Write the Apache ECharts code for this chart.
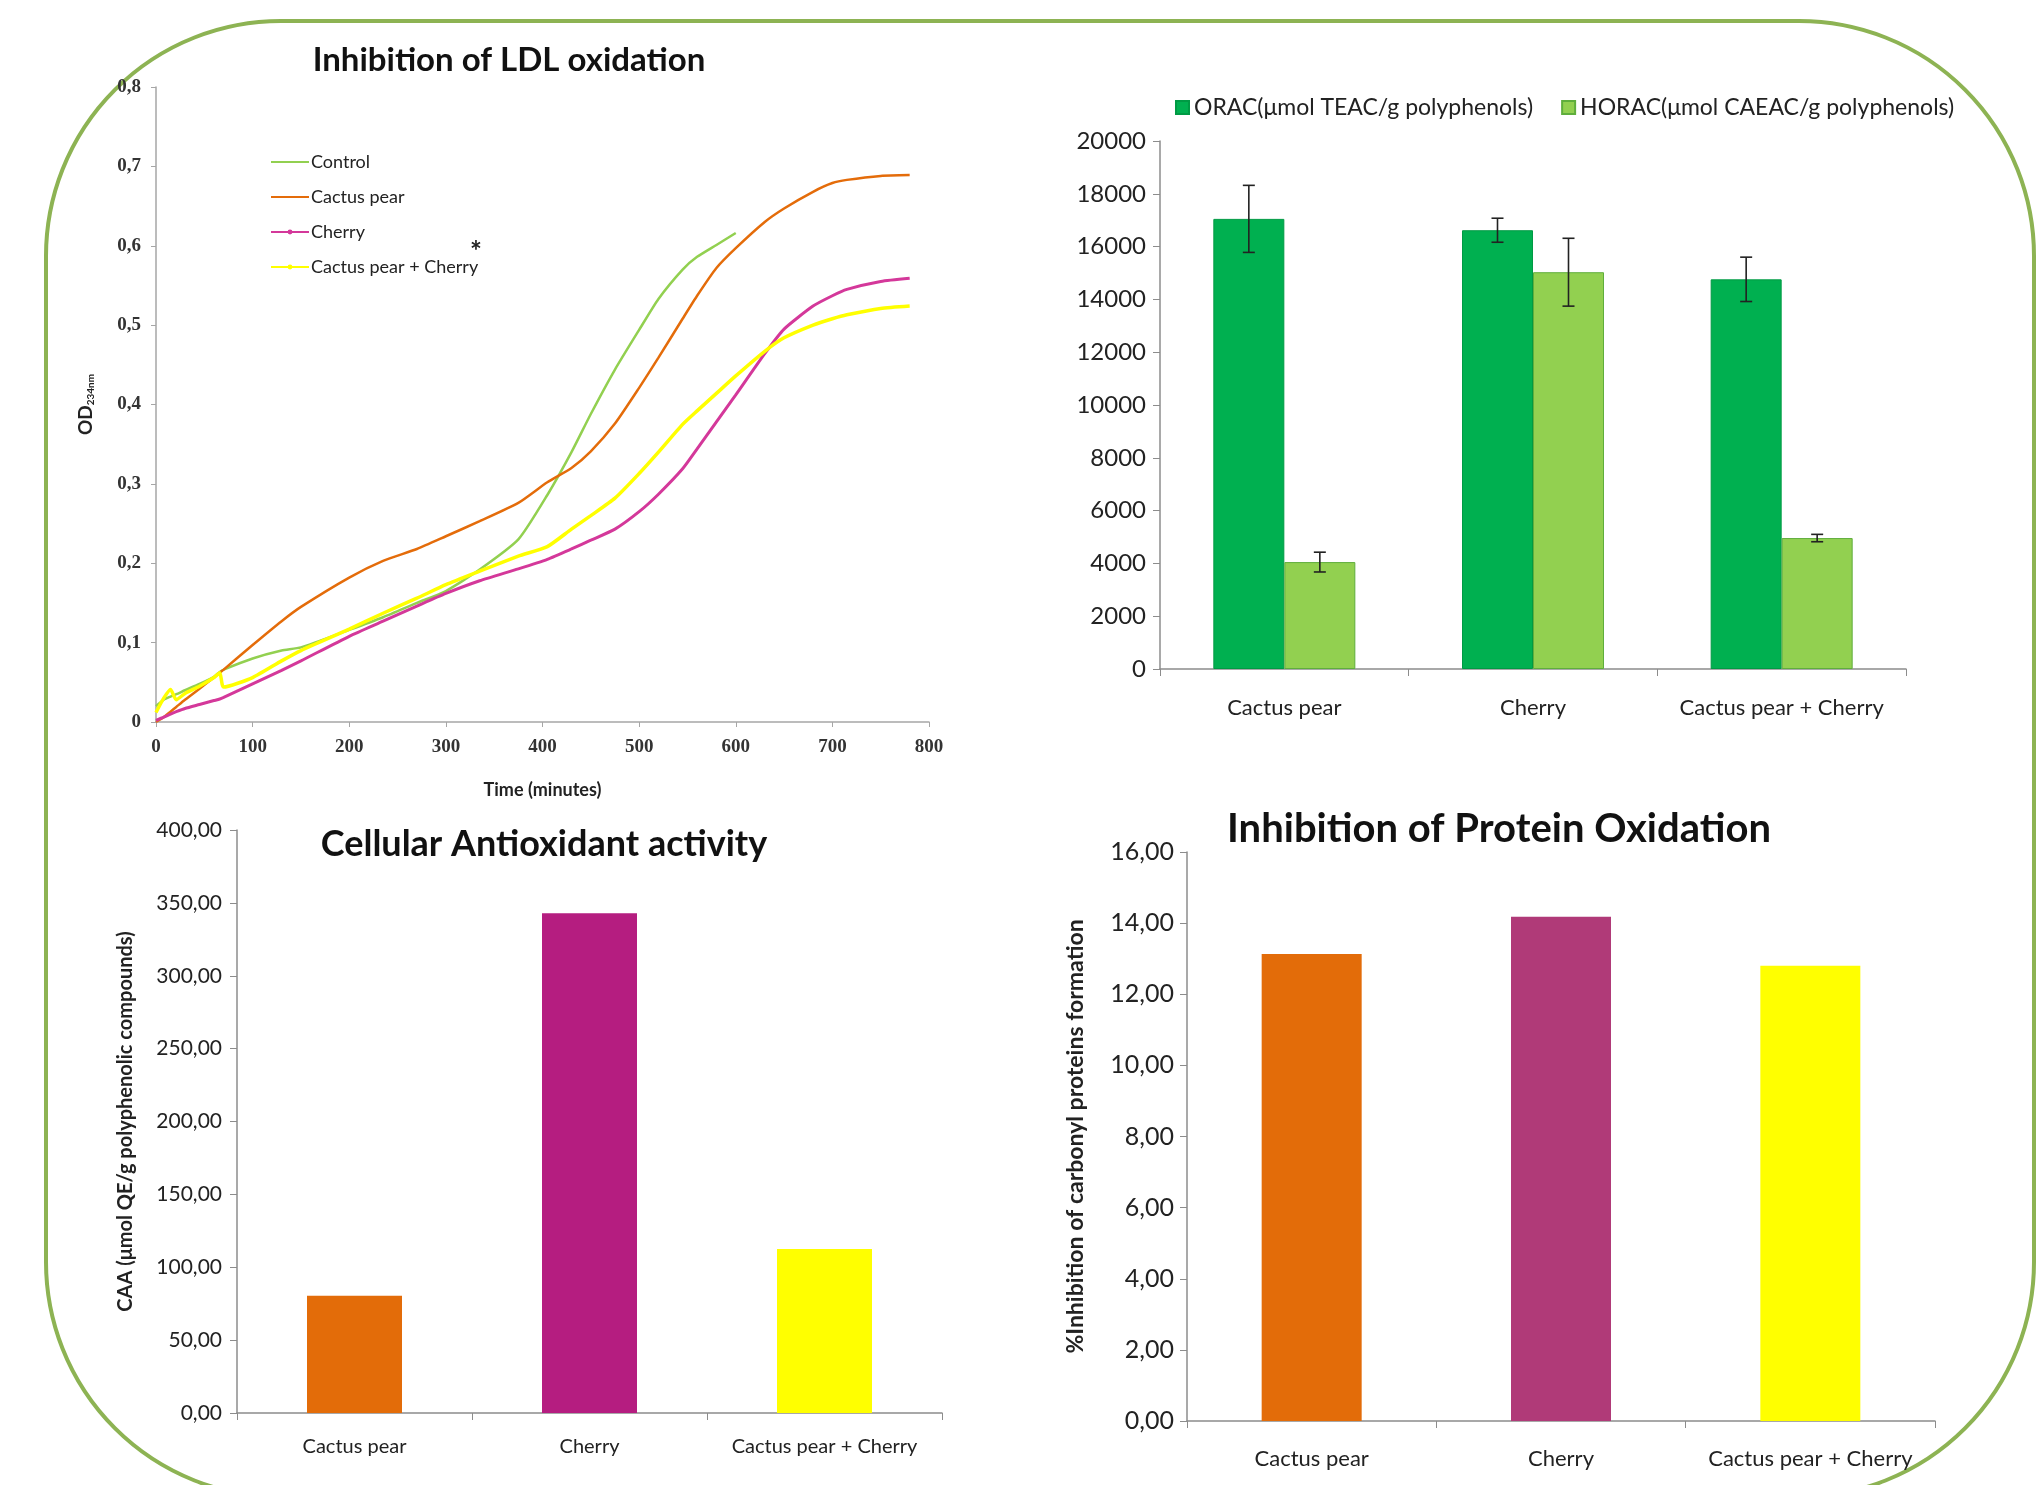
<!DOCTYPE html>
<html>
<head>
<meta charset="utf-8">
<title>Antioxidant activity</title>
<script src="https://cdn.jsdelivr.net/npm/echarts/dist/echarts.min.js"></script>
<style>
  html, body { margin: 0; padding: 0; background: #fff; }
  #main { width: 2040px; height: 1485px; }
</style>
</head>
<body>
<div id="main"></div>
<script>
// LDL oxidation, OD234nm (minutes)
var ldlTime    = [0, 8, 15, 21, 30, 45, 60, 66, 70, 100, 130, 150, 200, 235, 270, 300, 335, 375, 405, 430, 450, 475, 500, 520, 545, 560, 580, 600, 630, 650, 680, 700, 715, 750, 780];
var ldlControl = [0.02, 0.028, 0.032, 0.035, 0.04, 0.048, 0.057, 0.063, 0.066, 0.08, 0.09, 0.094, 0.116, 0.132, 0.15, 0.165, 0.192, 0.23, 0.286, 0.34, 0.388, 0.444, 0.494, 0.533, 0.57, 0.586, 0.601, 0.616, null, null, null, null, null, null, null];
var ldlCactus  = [0, 0.006, 0.013, 0.019, 0.028, 0.042, 0.056, 0.062, 0.066, 0.097, 0.127, 0.145, 0.182, 0.203, 0.218, 0.234, 0.253, 0.276, 0.302, 0.32, 0.341, 0.376, 0.421, 0.459, 0.508, 0.537, 0.572, 0.597, 0.63, 0.647, 0.668, 0.679, 0.683, 0.688, 0.689];
var ldlCherry  = [0.002, 0.006, 0.01, 0.013, 0.017, 0.022, 0.027, 0.029, 0.031, 0.048, 0.065, 0.077, 0.108, 0.127, 0.146, 0.162, 0.178, 0.193, 0.205, 0.218, 0.229, 0.243, 0.265, 0.287, 0.319, 0.344, 0.378, 0.412, 0.464, 0.495, 0.524, 0.537, 0.545, 0.555, 0.559];
var ldlMix     = [0.012, 0.03, 0.041, 0.028, 0.036, 0.045, 0.056, 0.062, 0.044, 0.056, 0.077, 0.09, 0.117, 0.137, 0.156, 0.173, 0.19, 0.209, 0.221, 0.243, 0.26, 0.282, 0.313, 0.34, 0.375, 0.392, 0.414, 0.436, 0.467, 0.484, 0.5, 0.508, 0.513, 0.521, 0.524];
var ldlNames   = ['Control', 'Cactus pear', 'Cherry', 'Cactus pear + Cherry'];

var categories = ['Cactus pear', 'Cherry', 'Cactus pear + Cherry'];

// ORAC / HORAC with standard deviations
var oracName  = 'ORAC(μmol TEAC/g polyphenols)';
var horacName = 'HORAC(μmol CAEAC/g polyphenols)';
var oracVal  = [17050, 16620, 14760];
var oracErr  = [1270, 455, 840];
var horacVal = [4050, 15030, 4960];
var horacErr = [375, 1285, 140];

// cellular antioxidant activity and protein oxidation
var caaVal     = [80.4, 342.9, 112.5];
var proteinVal = [13.13, 14.18, 12.8];

var FONT = 'Lato, "Open Sans", sans-serif';
var SERIF = '"Liberation Serif", serif';
var lineColors = ['#92d050', '#e46c0a', '#d4389a', '#ffff00'];
var caaColors = ['#e36c09', '#b51d80', '#ffff00'];
var proteinColors = ['#e36c09', '#b03a78', '#ffff00'];
var BAR2 = 71;

function pairs(xs, ys) {
  var out = [];
  for (var i = 0; i < xs.length; i++) {
    if (ys[i] !== null) out.push([xs[i], ys[i]]);
  }
  return out;
}

function comma(v, d) {
  return v.toFixed(d).replace('.', ',');
}

function errorBars(name, values, errs, offset) {
  var data = values.map(function (v, i) { return [i, v - errs[i], v + errs[i]]; });
  return {
    type: 'custom',
    name: name + ' err',
    xAxisIndex: 1,
    yAxisIndex: 1,
    z: 10,
    encode: { x: 0, y: [1, 2] },
    data: data,
    renderItem: function (params, api) {
      var lo = api.coord([api.value(0), api.value(1)]);
      var hi = api.coord([api.value(0), api.value(2)]);
      var x = lo[0] + offset;
      var cap = 6;
      var st = { stroke: '#222', lineWidth: 1.6 };
      return {
        type: 'group',
        children: [
          { type: 'line', shape: { x1: x, y1: lo[1], x2: x, y2: hi[1] }, style: st },
          { type: 'line', shape: { x1: x - cap, y1: lo[1], x2: x + cap, y2: lo[1] }, style: st },
          { type: 'line', shape: { x1: x - cap, y1: hi[1], x2: x + cap, y2: hi[1] }, style: st }
        ]
      };
    }
  };
}

function catAxis(grid, margin, size) {
  return {
    gridIndex: grid,
    type: 'category',
    data: categories,
    axisLine: { show: true, lineStyle: { color: '#8c8c8c', width: 1.5 } },
    axisTick: { show: true, length: 7, lineStyle: { color: '#8c8c8c' } },
    axisLabel: { interval: 0, margin: margin, fontFamily: FONT, fontSize: size, color: '#222' }
  };
}

function lineSeries(idx, values, width) {
  return {
    name: ldlNames[idx], type: 'line', xAxisIndex: 0, yAxisIndex: 0,
    symbol: 'none', smooth: 0.2,
    lineStyle: { width: width, color: lineColors[idx] },
    itemStyle: { color: lineColors[idx] },
    data: pairs(ldlTime, values)
  };
}

var chart = echarts.init(document.getElementById('main'));

var option = {
  backgroundColor: '#fff',
  animation: false,
  grid: [
    { left: 156, top: 87, width: 773, height: 635 },
    { left: 1160, top: 141, width: 746, height: 528 },
    { left: 237, top: 830, width: 705, height: 583 },
    { left: 1187, top: 852, width: 748, height: 569 }
  ],
  legend: [
    {
      // plain lines for the first two, small dot marker on the last two
      data: [
        { name: ldlNames[0], itemStyle: { opacity: 0 } },
        { name: ldlNames[1], itemStyle: { opacity: 0 } },
        { name: ldlNames[2] },
        { name: ldlNames[3] }
      ],
      orient: 'vertical',
      left: 265,
      top: 147,
      itemWidth: 38,
      itemHeight: 6,
      itemGap: 15,
      textStyle: { fontFamily: FONT, fontSize: 18, color: '#222', lineHeight: 20, padding: [0, 0, 0, -3] }
    },
    {
      data: [oracName, horacName],
      left: 1170,
      top: 91,
      icon: 'rect',
      itemWidth: 13,
      itemHeight: 13,
      itemGap: 28,
      textStyle: { fontFamily: FONT, fontSize: 23, color: '#222' }
    }
  ],
  xAxis: [
    {
      gridIndex: 0,
      type: 'value',
      min: 0, max: 800, interval: 100,
      name: 'Time (minutes)',
      nameLocation: 'middle',
      nameGap: 59,
      nameTextStyle: { fontFamily: FONT, fontSize: 18, fontWeight: 'bold', color: '#222' },
      axisLine: { show: true, lineStyle: { color: '#a6a6a6', width: 1.5 } },
      axisTick: { show: true, length: 5, lineStyle: { color: '#a6a6a6' } },
      axisLabel: { margin: 16, fontFamily: SERIF, fontSize: 19, fontWeight: 'bold', color: '#333' },
      splitLine: { show: false }
    },
    catAxis(1, 28, 22),
    catAxis(2, 24, 20),
    catAxis(3, 27, 22)
  ],
  yAxis: [
    {
      gridIndex: 0,
      type: 'value',
      min: 0, max: 0.8, interval: 0.1,
      name: '{a|OD}{b|234nm}',
      nameLocation: 'middle',
      nameGap: 60,
      nameTextStyle: {
        rich: {
          a: { fontFamily: FONT, fontSize: 19, fontWeight: 'bold', color: '#222' },
          b: { fontFamily: FONT, fontSize: 10, fontWeight: 'bold', color: '#222', padding: [10, 0, 0, 0] }
        }
      },
      axisLine: { show: true, lineStyle: { color: '#a6a6a6', width: 1.5 } },
      axisTick: { show: true, length: 5, lineStyle: { color: '#a6a6a6' } },
      axisLabel: {
        margin: 15, fontFamily: SERIF, fontSize: 19, fontWeight: 'bold', color: '#333',
        formatter: function (v) { return v === 0 ? '0' : comma(v, 1); }
      },
      splitLine: { show: false }
    },
    {
      gridIndex: 1,
      type: 'value',
      min: 0, max: 20000, interval: 2000,
      axisLine: { show: true, lineStyle: { color: '#8c8c8c', width: 1.5 } },
      axisTick: { show: true, length: 7, lineStyle: { color: '#8c8c8c' } },
      axisLabel: {
        margin: 14, fontFamily: FONT, fontSize: 24, color: '#222',
        formatter: function (v) { return String(v); }
      },
      splitLine: { show: false }
    },
    {
      gridIndex: 2,
      type: 'value',
      min: 0, max: 400, interval: 50,
      name: 'CAA (μmol QE/g polyphenolic compounds)',
      nameLocation: 'middle',
      nameGap: 101,
      nameTextStyle: { fontFamily: FONT, fontSize: 20, fontWeight: 'bold', color: '#222' },
      axisLine: { show: true, lineStyle: { color: '#8c8c8c', width: 1.5 } },
      axisTick: { show: true, length: 7, lineStyle: { color: '#8c8c8c' } },
      axisLabel: {
        margin: 15, fontFamily: FONT, fontSize: 21, color: '#222',
        formatter: function (v) { return comma(v, 2); }
      },
      splitLine: { show: false }
    },
    {
      gridIndex: 3,
      type: 'value',
      min: 0, max: 16, interval: 2,
      name: '%Inhibition of carbonyl proteins formation',
      nameLocation: 'middle',
      nameGap: 100,
      nameTextStyle: { fontFamily: FONT, fontSize: 23, fontWeight: 'bold', color: '#222' },
      axisLine: { show: true, lineStyle: { color: '#8c8c8c', width: 1.5 } },
      axisTick: { show: true, length: 7, lineStyle: { color: '#8c8c8c' } },
      axisLabel: {
        margin: 13, fontFamily: FONT, fontSize: 25, color: '#222',
        formatter: function (v) { return comma(v, 2); }
      },
      splitLine: { show: false }
    }
  ],
  series: [
    lineSeries(0, ldlControl, 2.5),
    lineSeries(1, ldlCactus, 2.5),
    lineSeries(2, ldlCherry, 3),
    lineSeries(3, ldlMix, 3.5),

    { name: oracName, type: 'bar', xAxisIndex: 1, yAxisIndex: 1, barWidth: BAR2, barGap: '0%',
      itemStyle: { color: '#00b050', borderColor: '#009a44', borderWidth: 1 }, data: oracVal },
    { name: horacName, type: 'bar', xAxisIndex: 1, yAxisIndex: 1, barWidth: BAR2, barGap: '0%',
      itemStyle: { color: '#92d050', borderColor: '#5fae3c', borderWidth: 1 }, data: horacVal },
    errorBars(oracName, oracVal, oracErr, -BAR2 / 2),
    errorBars(horacName, horacVal, horacErr, BAR2 / 2),

    { name: 'CAA', type: 'bar', xAxisIndex: 2, yAxisIndex: 2, barWidth: 95,
      data: caaVal.map(function (v, i) { return { value: v, itemStyle: { color: caaColors[i] } }; }) },
    { name: 'Protein oxidation', type: 'bar', xAxisIndex: 3, yAxisIndex: 3, barWidth: 100,
      data: proteinVal.map(function (v, i) { return { value: v, itemStyle: { color: proteinColors[i] } }; }) }
  ],
  graphic: [
    { type: 'rect', silent: true, z: -10,
      shape: { x: 46, y: 21, width: 1988, height: 1476, r: 235 },
      style: { fill: 'none', stroke: '#8db353', lineWidth: 4 } },
    { type: 'text', x: 509, y: 60,
      style: { text: 'Inhibition of LDL oxidation', font: 'bold 33px ' + FONT, fill: '#111',
               align: 'center', verticalAlign: 'middle', textAlign: 'center', textVerticalAlign: 'middle' } },
    { type: 'text', x: 544, y: 844,
      style: { text: 'Cellular Antioxidant activity', font: 'bold 36px ' + FONT, fill: '#111',
               align: 'center', verticalAlign: 'middle', textAlign: 'center', textVerticalAlign: 'middle' } },
    { type: 'text', x: 1499, y: 829,
      style: { text: 'Inhibition of Protein Oxidation', font: 'bold 40px ' + FONT, fill: '#111',
               align: 'center', verticalAlign: 'middle', textAlign: 'center', textVerticalAlign: 'middle' } },
    { type: 'text', x: 476, y: 252,
      style: { text: '*', font: 'bold 28px ' + FONT, fill: '#222',
               align: 'center', verticalAlign: 'middle', textAlign: 'center', textVerticalAlign: 'middle' } }
  ]
};

chart.setOption(option);
</script>
</body>
</html>
